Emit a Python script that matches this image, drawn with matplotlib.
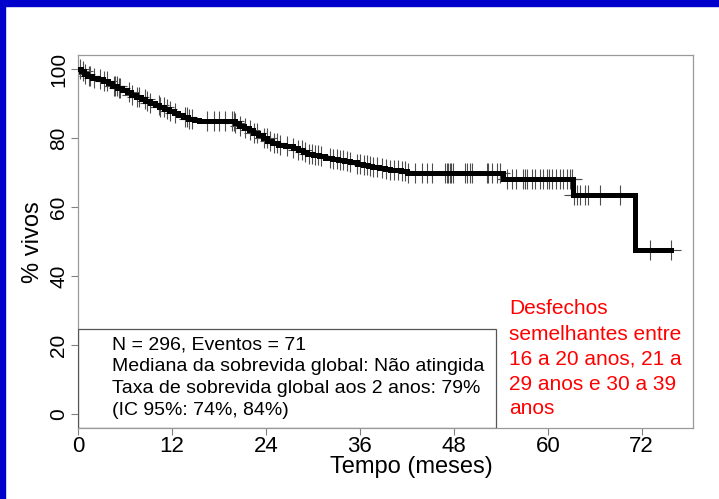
import numpy as np
import matplotlib
matplotlib.use('Agg')
import matplotlib.pyplot as plt
from matplotlib.patches import Rectangle

plt.rcParams['font.family'] = ['Liberation Sans', 'DejaVu Sans']

# curva de Kaplan-Meier (tempo em meses, % vivos), degraus "post"
km_tempo = [0, 0.4, 0.8, 1.2, 1.8, 2.5, 3.2, 3.8, 4.4, 5.0, 5.6, 6.2, 6.8, 7.4, 8.0,
            8.6, 9.2, 9.8, 10.4, 11.0, 11.6, 12.2, 12.8, 13.4, 14.0, 14.8, 15.5,
            20.0, 20.6, 21.2, 21.8, 22.4, 23.0, 23.6, 24.2, 24.8, 25.5, 26.5, 27.5,
            28.1, 28.7, 29.3, 30.0, 30.8, 31.6, 32.4, 33.2, 34.0, 34.8, 35.6, 36.4,
            37.0, 37.6, 38.4, 39.2, 39.9, 41.2, 42.0, 54.3, 63.2, 71.1, 75.8]
km_sobrev = [100, 99.3, 98.6, 97.9, 97.5, 97.0, 96.4, 95.8, 95.2, 94.6, 93.9, 93.2, 92.6,
             92.0, 91.4, 90.8, 90.1, 89.5, 88.9, 88.3, 87.7, 87.2, 86.7, 86.1, 85.6, 85.2,
             84.9, 84.3, 83.6, 82.9, 82.2, 81.5, 80.8, 80.0, 79.2, 78.5, 78.0, 77.7, 77.2,
             76.6, 76.0, 75.5, 75.1, 74.7, 74.3, 74.0, 73.6, 73.3, 73.1, 72.6, 72.3, 71.9,
             71.7, 71.2, 70.9, 70.7, 70.3, 69.9, 68.0, 63.5, 47.5, 47.5]

# tempos censurados (marcas +)
censura = [0.3, 0.6, 0.9, 1.35, 1.57, 2.1, 2.85, 3.27, 3.7, 4.55, 4.76, 4.98, 5.18, 5.4,
           6.46, 6.9, 7.53, 7.74, 8.59, 8.81, 9.23, 10.29, 10.5, 10.93, 11.36, 11.78,
           12.42, 13.7, 13.92, 14.12, 14.55, 16.47, 17.31, 17.95, 18.8, 19.66, 19.87,
           20.08, 20.72, 21.36, 22.0, 22.42, 22.85, 23.7, 24.1, 24.55, 24.97, 25.4, 25.8,
           26.68, 27.5, 28.16, 28.6, 29.0, 29.5, 29.9, 30.3, 30.7, 31.1, 32.2, 32.6, 33.1,
           33.5, 33.9, 34.35, 34.8, 35.6, 36.0, 36.5, 36.9, 37.3, 37.7, 38.2, 38.8, 39.4,
           39.9, 40.3, 40.9, 41.4, 41.8, 42.2, 43.1, 43.9, 44.55, 45.2, 46.9, 47.1, 47.3,
           47.5, 47.7, 47.95, 49.45, 49.66, 50.1, 50.3, 52.2, 52.4, 52.9, 53.5, 53.9,
           54.8, 55.4, 56.0, 56.9, 57.1, 57.3, 57.96, 58.4, 59.0, 59.45, 59.9, 60.1, 60.6,
           61.0, 61.6, 62.0, 62.5, 62.9, 63.1, 63.3, 63.7, 64.1, 64.8, 65.2, 66.7, 69.2,
           73.0, 75.7]

xticks = [0, 12, 24, 36, 48, 60, 72]
yticks = [0, 20, 40, 60, 80, 100]

legenda = ['N = 296, Eventos = 71',
           'Mediana da sobrevida global: Não atingida',
           'Taxa de sobrevida global aos 2 anos: 79%',
           '(IC 95%: 74%, 84%)']
nota = ['Desfechos', 'semelhantes entre', '16 a 20 anos, 21 a',
        '29 anos e 30 a 39', 'anos']

W, H = 719, 499
fig = plt.figure(figsize=(W / 100, H / 100), dpi=100)
fig.patch.set_facecolor('white')

# faixas azuis do slide
fig.patches.append(Rectangle((0, 1 - 6 / H), 1, 6 / H, transform=fig.transFigure,
                             color='#0000CC', zorder=0))
fig.patches.append(Rectangle((0, 0), 5 / W, 1, transform=fig.transFigure,
                             color='#0000CC', zorder=0))

ax = fig.add_axes([78 / W, 1 - 428 / H, (693 - 78) / W, (428 - 55) / H])

t = np.array(km_tempo)
s = np.array(km_sobrev)
ax.step(t, s, where='post', color='black', lw=3.6, solid_joinstyle='miter', zorder=3)

c = np.array(censura)
cy = s[np.searchsorted(t, c, side='right') - 1]
ax.plot(c, cy, ls='none', marker='+', ms=14, mew=0.8, color='#4d4d4d', zorder=2)

ax.set_xlim(0, 78.55)
ax.set_ylim(-4.06, 104.06)
ax.set_xticks(xticks)
ax.set_yticks(yticks)
ax.tick_params(axis='x', labelsize=16, length=5, width=0.8, color='#808080', pad=1)
ax.tick_params(axis='y', labelsize=15, length=5, width=0.8, color='#808080', pad=2,
               labelrotation=90)
for lab in ax.get_yticklabels():
    lab.set_va('center')
for sp in ax.spines.values():
    sp.set_color('#999999')
    sp.set_linewidth(0.9)

# caixa de legenda
ax.add_patch(Rectangle((0, 0), (496 - 78) / (693 - 78), (428 - 329) / (428 - 55),
                       transform=ax.transAxes, fill=False, ec='#555555', lw=0.9,
                       zorder=4))
for i, linha in enumerate(legenda):
    fig.text(112 / W, 1 - (345 + i * 21.8) / H, linha, fontsize=14,
             ha='left', va='center')

fig.text(411 / W, 1 - 467 / H, 'Tempo (meses)', fontsize=17, ha='center', va='center')
fig.text(33 / W, 1 - 242 / H, '% vivos', fontsize=17, ha='center', va='center',
         rotation=90)

for i, linha in enumerate(nota):
    fig.text(509 / W, 1 - (309 + i * 25) / H, linha, fontsize=15, color='#FF0000',
             ha='left', va='center')

fig.savefig('out.png', dpi=100)
